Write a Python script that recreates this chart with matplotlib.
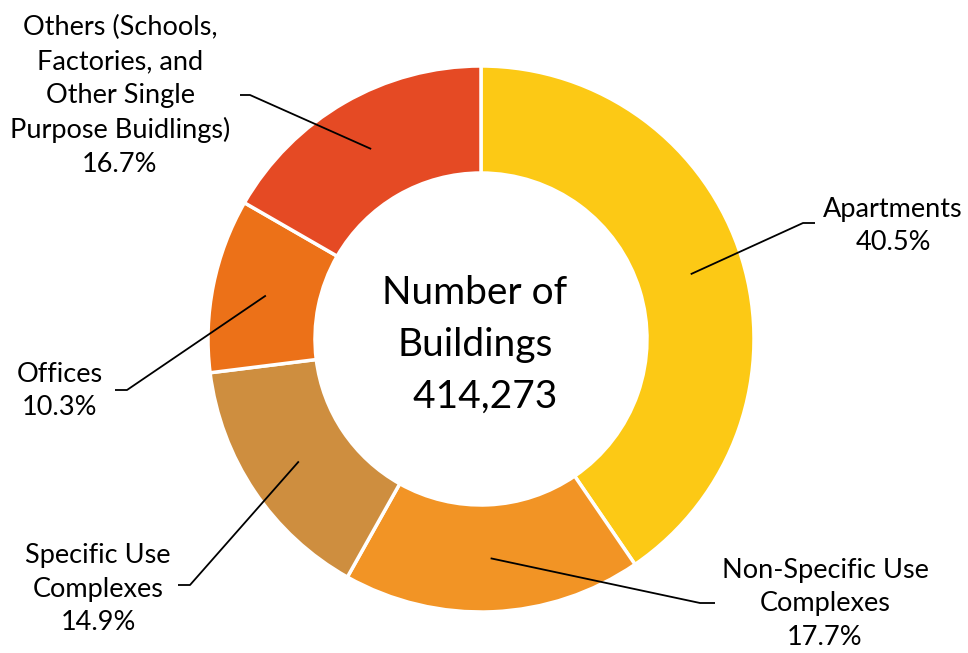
import numpy as np
import matplotlib.pyplot as plt

labels = ["Apartments", "Non-Specific Use\nComplexes", "Specific Use\nComplexes",
          "Offices", "Others (Schools,\nFactories, and\nOther Single\nPurpose Buidlings)"]
shares = [40.5, 17.7, 14.9, 10.3, 16.7]
colors = ["#FCC915", "#F29425", "#CE8E3F", "#EC7118", "#E54A24"]
total_buildings = "414,273"

W, H = 968, 653
fig = plt.figure(figsize=(W / 100, H / 100), dpi=100)
ax = fig.add_axes([0, 0, 1, 1])

cx, cy = 481, H - 339
r_out, r_in = 273, 166
ax.pie(shares, colors=colors, startangle=90, counterclock=False,
       center=(cx, cy), radius=r_out,
       wedgeprops=dict(width=r_out - r_in, edgecolor="white", linewidth=2.5))
ax.set_xlim(0, W)
ax.set_ylim(0, H)
ax.set_aspect("equal")
ax.axis("off")

font = ["Lato", "DejaVu Sans"]

# label text centre, elbow and end of the horizontal stub (pixel coords, y down)
layout = [
    ((893, 226), (803, 223), (815, 223)),
    ((825, 604), (700, 603), (715, 603)),
    ((98, 589), (190, 585), (178, 585)),
    ((60, 391), (127, 390), (115, 390)),
    ((120, 96), (250, 95), (240, 95)),
]

r_mid = (r_out + r_in) / 2
cum = 0.0
tot = sum(shares)
for lab, v, (txt, elbow, stub) in zip(labels, shares, layout):
    ang = np.deg2rad(90 - 360 * (cum + v / 2) / tot)
    cum += v
    ax_x = cx + r_mid * np.cos(ang)
    ax_y = cy + r_mid * np.sin(ang)
    ax.plot([ax_x, elbow[0], stub[0]], [ax_y, H - elbow[1], H - stub[1]],
            color="black", lw=1.3, solid_capstyle="butt")
    ax.text(txt[0], H - txt[1], f"{lab}\n{v}%", ha="center", va="center",
            fontsize=19.5, family=font, linespacing=1.44)

ax.text(cx - 6, cy - 6, f"Number of\nBuildings\n  {total_buildings}", ha="center",
        va="center", fontsize=28, family=font, linespacing=1.55)

fig.savefig("out.png", dpi=100)
